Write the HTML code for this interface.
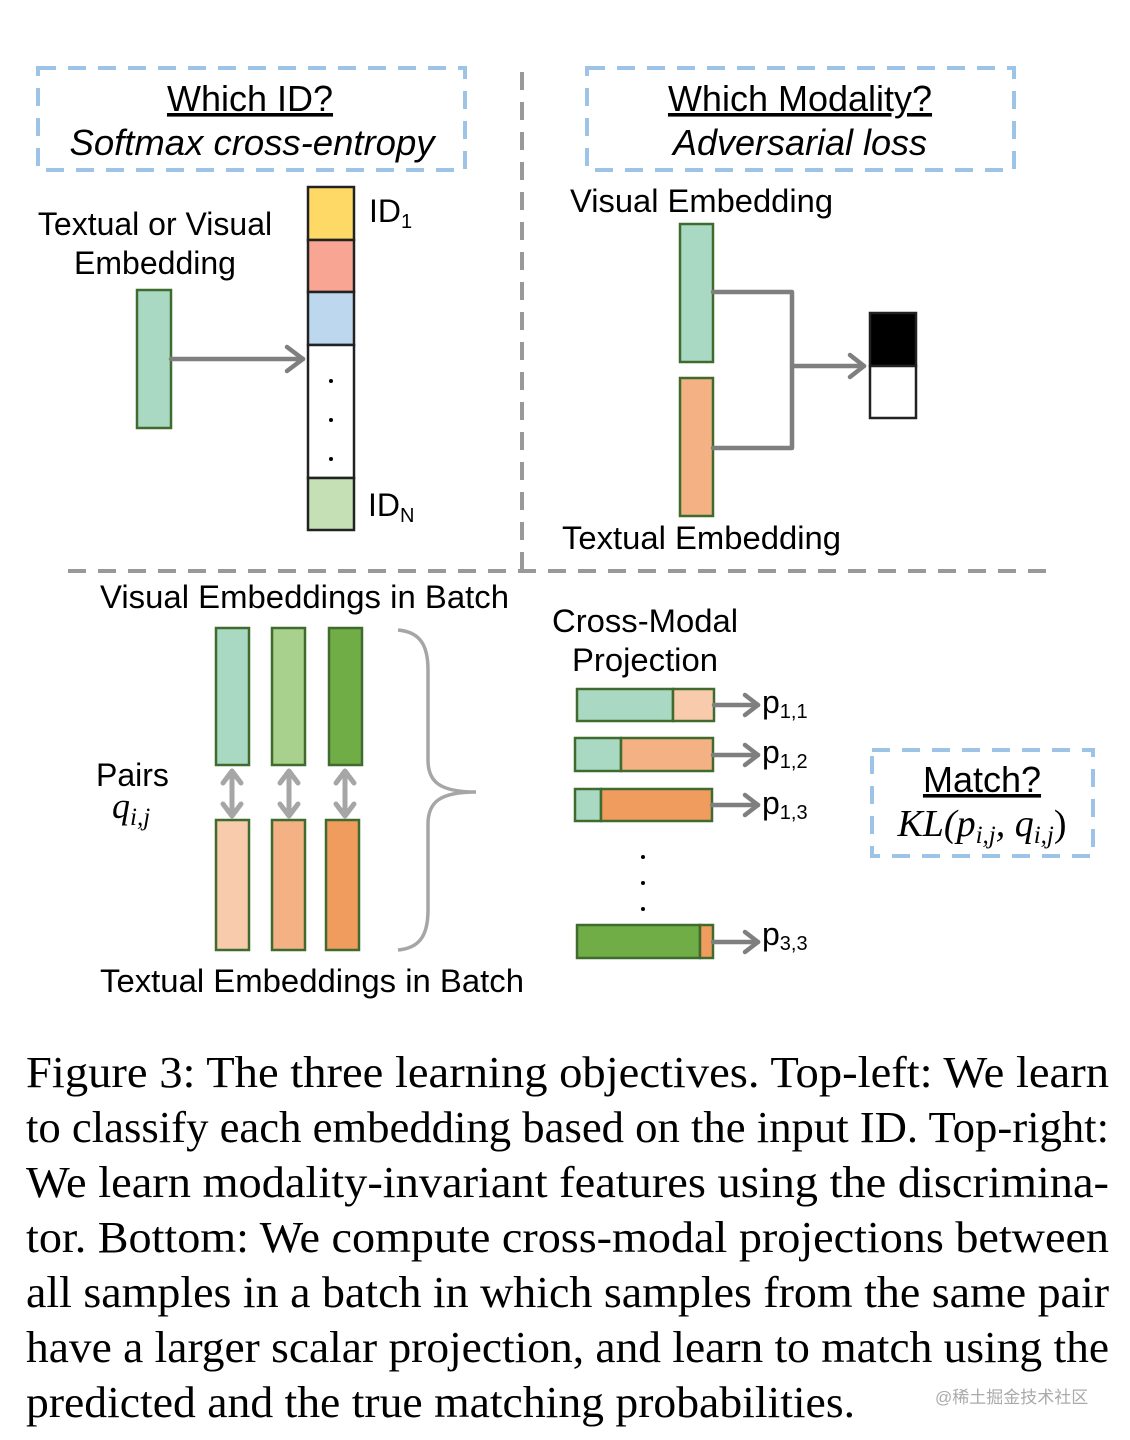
<!DOCTYPE html>
<html><head><meta charset="utf-8"><style>
html,body{margin:0;padding:0;background:#fff;width:1130px;height:1440px;overflow:hidden;position:relative}
svg{position:absolute;left:0;top:0}
.wm{position:absolute;left:935px;top:1383px;font-family:"Liberation Sans","Noto Sans CJK SC",sans-serif;font-size:17px;color:#aaa}
</style></head><body>
<svg width="1130" height="1440" viewBox="0 0 1130 1440" font-family="Liberation Sans, sans-serif">
<g fill="none" stroke="#9dc3e6" stroke-width="4" stroke-dasharray="18,12">
<rect x="38" y="68" width="427" height="102"/>
<rect x="587" y="68" width="427" height="102"/>
<rect x="872" y="750" width="221" height="106"/>
</g>
<g stroke="#999" stroke-width="4" stroke-dasharray="18,12">
<line x1="522" y1="72" x2="522" y2="570"/>
<line x1="68" y1="571" x2="1048" y2="571"/>
</g>
<g font-size="36" text-anchor="middle" fill="#000">
<text x="250" y="111" text-decoration="underline">Which ID?</text>
<text x="252" y="155" font-style="italic" textLength="365" lengthAdjust="spacingAndGlyphs">Softmax cross-entropy</text>
<text x="800" y="111" text-decoration="underline">Which Modality?</text>
<text x="800" y="155" font-style="italic">Adversarial loss</text>
<text x="982" y="792" text-decoration="underline">Match?</text>
</g>
<text x="982" y="836" text-anchor="middle" font-family="Liberation Serif, serif" font-style="italic" font-size="38">KL(p<tspan font-size="25" dy="7">i,j</tspan><tspan dy="-7">, q</tspan><tspan font-size="25" dy="7">i,j</tspan><tspan dy="-7" font-style="normal">)</tspan></text>
<g font-size="32" fill="#000">
<text x="155" y="235" text-anchor="middle">Textual or Visual</text>
<text x="155" y="274" text-anchor="middle">Embedding</text>
<text x="369" y="222">ID<tspan font-size="20" dy="6">1</tspan></text>
<text x="368" y="516">ID<tspan font-size="20" dy="6">N</tspan></text>
<text x="570" y="212" textLength="263" lengthAdjust="spacingAndGlyphs">Visual Embedding</text>
<text x="562" y="549" textLength="279" lengthAdjust="spacingAndGlyphs">Textual Embedding</text>
<text x="100" y="608" textLength="409" lengthAdjust="spacingAndGlyphs">Visual Embeddings in Batch</text>
<text x="100" y="992" textLength="424" lengthAdjust="spacingAndGlyphs">Textual Embeddings in Batch</text>
<text x="96" y="786">Pairs</text>
<text x="552" y="632" textLength="186" lengthAdjust="spacingAndGlyphs">Cross-Modal</text>
<text x="572" y="671" textLength="146" lengthAdjust="spacingAndGlyphs">Projection</text>
<text x="762" y="713">p<tspan font-size="20" dy="5">1,1</tspan></text>
<text x="762" y="763">p<tspan font-size="20" dy="5">1,2</tspan></text>
<text x="762" y="814">p<tspan font-size="20" dy="5">1,3</tspan></text>
<text x="762" y="945">p<tspan font-size="20" dy="5">3,3</tspan></text>
</g>
<text x="112" y="818" font-family="Liberation Serif, serif" font-style="italic" font-size="36">q<tspan font-size="25" dy="7">i,j</tspan></text>
<g stroke="#3f6b2e" stroke-width="2.5">
<rect x="137" y="290" width="34" height="138" fill="#aad9c3"/>
<rect x="680" y="224" width="33" height="138" fill="#aad9c3"/>
<rect x="680" y="378" width="33" height="138" fill="#f4b183"/>
<rect x="216" y="628" width="33" height="137" fill="#aad9c3"/>
<rect x="272" y="628" width="33" height="137" fill="#a9d18e"/>
<rect x="329" y="628" width="33" height="137" fill="#70ad47"/>
<rect x="216" y="820" width="33" height="130" fill="#f8cbad"/>
<rect x="272" y="820" width="33" height="130" fill="#f4b183"/>
<rect x="326" y="820" width="33" height="130" fill="#f19c5f"/>
<rect x="577" y="689" width="96" height="32" fill="#aad9c3"/><rect x="673" y="689" width="41" height="32" fill="#f8cbad"/>
<rect x="575" y="738" width="46" height="33" fill="#aad9c3"/><rect x="621" y="738" width="92" height="33" fill="#f4b183"/>
<rect x="575" y="789" width="26" height="32" fill="#aad9c3"/><rect x="601" y="789" width="111" height="32" fill="#f19c5f"/>
<rect x="577" y="925" width="123" height="33" fill="#70ad47"/><rect x="700" y="925" width="13" height="33" fill="#f19c5f"/>
</g>
<g stroke="#222" stroke-width="2.5">
<rect x="308" y="187" width="46" height="53" fill="#ffd966"/>
<rect x="308" y="240" width="46" height="52" fill="#f8a594"/>
<rect x="308" y="292" width="46" height="53" fill="#bdd7ee"/>
<rect x="308" y="345" width="46" height="133" fill="#fff"/>
<rect x="308" y="478" width="46" height="52" fill="#c5e0b4"/>
<rect x="870" y="313" width="46" height="53" fill="#000"/>
<rect x="870" y="366" width="46" height="52" fill="#fff"/>
</g>
<g fill="#000"><circle cx="331" cy="381" r="2"/><circle cx="331" cy="420" r="2"/><circle cx="331" cy="459" r="2"/>
<circle cx="643" cy="857" r="2"/><circle cx="643" cy="883" r="2"/><circle cx="643" cy="909" r="2"/></g>
<g fill="none" stroke="#7f7f7f" stroke-width="4.5" stroke-linecap="round" stroke-linejoin="round">
<line x1="171" y1="359" x2="303" y2="359"/><polyline points="287,347 303,359 287,371"/>
<polyline points="713,292 792,292 792,448 713,448"/>
<line x1="792" y1="366" x2="864" y2="366"/><polyline points="850,355 864,366 850,377"/>
<line x1="714" y1="705" x2="758" y2="705"/><polyline points="745,695 758,705 745,715"/>
<line x1="713" y1="755" x2="758" y2="755"/><polyline points="745,745 758,755 745,765"/>
<line x1="712" y1="805" x2="758" y2="805"/><polyline points="745,795 758,805 745,815"/>
<line x1="713" y1="942" x2="758" y2="942"/><polyline points="745,932 758,942 745,952"/>
</g>
<g fill="none" stroke="#a6a6a6" stroke-width="5" stroke-linecap="round" stroke-linejoin="round">
<line x1="232" y1="772" x2="232" y2="815"/><polyline points="223,783 232,771 241,783"/><polyline points="223,804 232,816 241,804"/>
<line x1="289" y1="772" x2="289" y2="815"/><polyline points="280,783 289,771 298,783"/><polyline points="280,804 289,816 298,804"/>
<line x1="345" y1="772" x2="345" y2="815"/><polyline points="336,783 345,771 354,783"/><polyline points="336,804 345,816 354,804"/>
</g>
<path d="M398,630 C420,632 428,645 428,670 L428,760 C428,782 440,792 476,792 M398,950 C420,948 428,935 428,910 L428,824 C428,802 440,792 476,792" fill="none" stroke="#a6a6a6" stroke-width="3.5"/>
<g font-family="Liberation Serif, serif" font-size="44" fill="#000" lengthAdjust="spacingAndGlyphs">
<text x="26" y="1087" textLength="1083" lengthAdjust="spacingAndGlyphs">Figure 3: The three learning objectives. Top-left: We learn</text>
<text x="26" y="1142" textLength="1083" lengthAdjust="spacingAndGlyphs">to classify each embedding based on the input ID. Top-right:</text>
<text x="26" y="1197" textLength="1083" lengthAdjust="spacingAndGlyphs">We learn modality-invariant features using the discrimina-</text>
<text x="26" y="1252" textLength="1083" lengthAdjust="spacingAndGlyphs">tor. Bottom: We compute cross-modal projections between</text>
<text x="26" y="1307" textLength="1083" lengthAdjust="spacingAndGlyphs">all samples in a batch in which samples from the same pair</text>
<text x="26" y="1362" textLength="1083" lengthAdjust="spacingAndGlyphs">have a larger scalar projection, and learn to match using the</text>
<text x="26" y="1417" textLength="829" lengthAdjust="spacingAndGlyphs">predicted and the true matching probabilities.</text>
</g>
</svg>
<div class="wm">@稀土掘金技术社区</div>
</body></html>
